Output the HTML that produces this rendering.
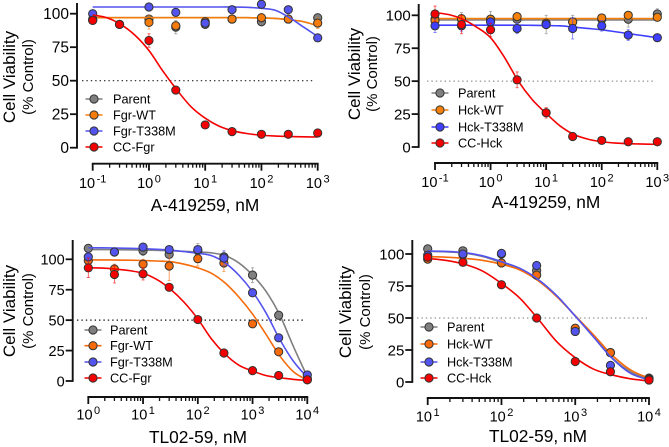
<!DOCTYPE html>
<html lang="en">
<head>
<meta charset="utf-8">
<title>Cell viability dose-response charts</title>
<style>
html,body{margin:0;padding:0;background:#fff;width:669px;height:447px;overflow:hidden}
svg{display:block;font-family:"Liberation Sans",Arial,sans-serif;fill:#000}
</style>
</head>
<body>
<svg id="figure" width="669" height="447" viewBox="0 0 669 447" xmlns="http://www.w3.org/2000/svg"></svg>
<script>
// ---------- Data ----------
const yTicks = [0, 25, 50, 75, 100];

// Panel A: A-419259 on Fgr cells
const fgrADoses = [0.1, 0.3, 1, 3, 10, 30, 100, 300, 1000];
const fgrANames = ['Parent', 'Fgr-WT', 'Fgr-T338M', 'CC-Fgr'];
const fgrAParent = [95, 92, 96, 90, 92, 96, 94, 96, 97];
const fgrAWT = [96, 92, 93.5, 91, 94, 96, 97, 96, 93];
const fgrAT338M = [100, 92, 105, 101, 93, 103, 107, 103, 82];
const fgrACC = [95, 92, 80, 43, 17, 12, 10, 10, 11];
const fgrAParentErr = [2, 1, 3, 5, 3, 2, 3, 2, 2];
const fgrAWTErr = [2, 1, 5, 3, 3, 2, 3, 2, 4];
const fgrAT338MErr = [1, 1, 1, 1, 1, 1, 1, 1, 1];
const fgrACCErr = [2, 1, 5, 2, 1, 1, 1, 1, 1];
const fgrAFitDoses = [0.1, 0.178, 0.316, 0.562, 1, 1.78, 3.16, 5.62, 10, 17.8, 31.6, 56.2, 100, 178, 316, 562, 1000];
const fgrAParentFit = [97, 97, 97, 97, 97, 97, 97, 97, 97, 97, 97, 97, 96.8, 96.5, 95.5, 94, 91];
const fgrAWTFit = [97, 97, 97, 97, 97, 97, 97, 97, 97, 97, 97, 97, 96.8, 96.5, 95.5, 94, 91];
const fgrAT338MFit = [105, 105, 105, 105, 105, 105, 105, 105, 105, 105, 105, 104.8, 104, 102.5, 97, 90, 83];
const fgrACCFit = [99, 97, 92, 84, 72.5, 57, 43, 30.5, 22, 16, 12.5, 10.5, 9.3, 8.7, 8.3, 8.1, 8];

// Panel B: A-419259 on Hck cells
const hckADoses = [0.1, 0.3, 1, 3, 10, 30, 100, 300, 1000];
const hckANames = ['Parent', 'Hck-WT', 'Hck-T338M', 'CC-Hck'];
const hckAParent = [97, 97, 97, 97, 93, 95, 97, 97, 101];
const hckAWT = [96, 97.5, 97, 99, 94, 95, 98, 100, 98.5];
const hckAT338M = [92, 92, 95, 90, 93, 90, 92, 85, 83];
const hckACC = [101, 93, 89, 51, 26, 8, 5, 4, 4];
const hckAParentErr = [3, 5, 6, 2, 7, 5, 3, 6, 4];
const hckAWTErr = [2, 2, 2, 2, 3, 3, 2, 2, 2];
const hckAT338MErr = [5, 4, 3, 4, 3, 8, 4, 4, 2];
const hckACCErr = [6, 7, 5, 6, 4, 3, 2, 2, 2];
const hckAFitDoses = [0.1, 0.178, 0.316, 0.562, 1, 1.78, 3.16, 5.62, 10, 17.8, 31.6, 56.2, 100, 178, 316, 562, 1000];
const hckAParentFit = [96.5, 96.5, 96.5, 96.5, 96.5, 96.5, 96.5, 96.5, 96.5, 96.5, 96.5, 96.5, 96.5, 96.5, 96.5, 96.5, 96.5];
const hckAWTFit = [97.5, 97.5, 97.5, 97.5, 97.5, 97.5, 97.5, 97.5, 97.5, 97.5, 97.5, 97.5, 97.5, 97.5, 97.5, 97.5, 97.5];
const hckAT338MFit = [92.5, 92.5, 92.5, 92.5, 92.5, 92.5, 92.5, 92.4, 92.2, 92, 91, 90, 89, 87.5, 86, 84.5, 83];
const hckACCFit = [102, 100.5, 97, 91, 83, 68, 50, 36, 25.5, 16, 9.5, 6, 4, 3, 2.5, 2.2, 2];

// Panel C: TL02-59 on Fgr cells
const fgrTDoses = [1, 3, 10, 30, 100, 300, 1000, 3000, 10000];
const fgrTNames = ['Parent', 'Fgr-WT', 'Fgr-T338M', 'CC-Fgr'];
const fgrTParent = [109, 106, 107, 104, 107, 102, 87, 54, 2];
const fgrTWT = [99, 92, 96, 94.5, 100.5, 97, 47, 24, 1];
const fgrTT338M = [102, 106, 110, 108, 108, 101, 72.5, 35.5, 5];
const fgrTCC = [93, 87.5, 88, 77, 50.5, 23, 8.5, 4.5, 1];
const fgrTParentErr = [3, 3, 4, 6, 6, 4, 6, 3, 1];
const fgrTWTErr = [5, 4, 4, 12, 6, 7, 3, 2, 1];
const fgrTT338MErr = [4, 3, 3, 3, 3, 6, 3, 2, 1];
const fgrTCCErr = [8, 7, 5, 2, 2, 2, 2, 2, 1];
const fgrTFitDoses = [1, 1.78, 3.16, 5.62, 10, 17.8, 31.6, 56.2, 100, 178, 316, 562, 1000, 1780, 3160, 5620, 10000];
const fgrTParentFit = [108, 108, 107.9, 107.8, 107.6, 107.4, 107, 106.6, 106, 105.3, 103, 97, 87, 73.4, 54, 28, 3.5];
const fgrTWTFit = [99.5, 99.5, 99.4, 99.3, 99, 98.6, 98, 96, 93, 88.5, 80.5, 69, 55, 38, 20.5, 7.5, 0.8];
const fgrTT338MFit = [109.5, 109.4, 109.2, 109, 108.7, 108.2, 107.5, 106.3, 105, 103, 97, 87, 73.4, 55.6, 34, 16, 3];
const fgrTCCFit = [93, 92.8, 92, 90.7, 88.5, 83.5, 75.5, 64.7, 51, 34.5, 22, 13, 8.2, 4.4, 2.7, 1.3, 0.5];

// Panel D: TL02-59 on Hck cells
const hckTDoses = [10, 30, 100, 300, 1000, 3000, 10000];
const hckTNames = ['Parent', 'Hck-WT', 'Hck-T338M', 'CC-Hck'];
const hckTParent = [104, 102.5, 100, 87, 40, 23, 3];
const hckTWT = [96, 99.5, 93, 83.5, 42, 23, 2.5];
const hckTT338M = [99, 100, 100.5, 91, 39.5, 13, 2];
const hckTCC = [97.5, 93.5, 76, 50, 16, 8, 1.5];
const hckTParentErr = [1, 1, 1, 1, 1, 1, 1];
const hckTWTErr = [1, 1, 1, 1, 1, 1, 1];
const hckTT338MErr = [1, 1, 1, 1, 1, 1, 1];
const hckTCCErr = [1, 1, 1, 1, 1, 1, 1];
const hckTFitDoses = [10, 17.8, 31.6, 56.2, 100, 178, 316, 562, 1000, 1780, 3160, 5620, 10000];
const hckTParentFit = [102, 101.7, 100.7, 98, 93.3, 88.5, 80, 67.3, 51.5, 35.7, 19, 8, 2.2];
const hckTWTFit = [98, 97.5, 96.5, 95, 92, 87.5, 79, 66.7, 51.8, 36.7, 21, 9.4, 3];
const hckTT338MFit = [102.3, 102, 101, 98.5, 94, 88.8, 80, 67.4, 51.5, 35, 18.5, 6.8, 1.6];
const hckTCCFit = [96.5, 95, 92, 86.5, 77, 65.4, 49, 31.5, 19, 10, 5.5, 2.5, 0.8];

// X tick decades and their printed exponents
const fgrADecades = [0.1, 1, 10, 100, 1000];
const fgrAExponents = ['-1', '0', '1', '2', '3'];
const hckADecades = [0.1, 1, 10, 100, 1000];
const hckAExponents = ['-1', '0', '1', '2', '3'];
const fgrTDecades = [1, 10, 100, 1000, 10000];
const fgrTExponents = ['0', '1', '2', '3', '4'];
const hckTDecades = [10, 100, 1000, 10000];
const hckTExponents = ['1', '2', '3', '4'];

// ---------- Panel wiring and layout ----------
const panels = [
  {key:'fgr-a', doses:fgrADoses, fitDoses:fgrAFitDoses, names:fgrANames, decades:fgrADecades, exps:fgrAExponents, xLabel:'A-419259, nM',
   values:[fgrAParent,fgrAWT,fgrAT338M,fgrACC], errs:[fgrAParentErr,fgrAWTErr,fgrAT338MErr,fgrACCErr], fits:[fgrAParentFit,fgrAWTFit,fgrAT338MFit,fgrACCFit],
   colors:['#7f7f7f','#f57c0a','#5353ee','#f40000'],
   ax:{yx:77,top:3,y0:147.7,y100:13.7,xy:163.7,x0:92.7,x1:317.7,refA:82,refB:315,refColor:'#222',refW:1.1,yFont:15.5,
       labY:188,titleX:205,titleY:211,t1x:15,t2x:33,tcy:77,legY:[99,115,131,147],legX:94,legT:113}},
  {key:'hck-a', doses:hckADoses, fitDoses:hckAFitDoses, names:hckANames, decades:hckADecades, exps:hckAExponents, xLabel:'A-419259, nM',
   values:[hckAParent,hckAWT,hckAT338M,hckACC], errs:[hckAParentErr,hckAWTErr,hckAT338MErr,hckACCErr], fits:[hckAParentFit,hckAWTFit,hckAT338MFit,hckACCFit],
   colors:['#808080','#f5800a','#3f3fff','#f40000'],
   ax:{yx:418.7,top:4,y0:147,y100:15.3,xy:163,x0:435,x1:657.3,refA:427,refB:655,refColor:'#777',refW:1,yFont:15,
       labY:187,titleX:546,titleY:208,t1x:360,t2x:377,tcy:74,legY:[93,110,127,143],legX:440,legT:458}},
  {key:'fgr-t', doses:fgrTDoses, fitDoses:fgrTFitDoses, names:fgrTNames, decades:fgrTDecades, exps:fgrTExponents, xLabel:'TL02-59, nM',
   values:[fgrTParent,fgrTWT,fgrTT338M,fgrTCC], errs:[fgrTParentErr,fgrTWTErr,fgrTT338MErr,fgrTCCErr], fits:[fgrTParentFit,fgrTWTFit,fgrTT338MFit,fgrTCCFit],
   colors:['#7f7f7f','#f56a0a','#5353ee','#f40000'],
   ax:{yx:72.7,top:240,y0:381,y100:259.3,xy:397,x0:88.3,x1:307.3,refA:77,refB:305,refColor:'#111',refW:1.3,yFont:14.5,
       labY:419.5,titleX:198,titleY:443,t1x:15,t2x:33,tcy:311,legY:[330,345.7,362,378],legX:93,legT:110}},
  {key:'hck-t', doses:hckTDoses, fitDoses:hckTFitDoses, names:hckTNames, decades:hckTDecades, exps:hckTExponents, xLabel:'TL02-59, nM',
   values:[hckTParent,hckTWT,hckTT338M,hckTCC], errs:[hckTParentErr,hckTWTErr,hckTT338MErr,hckTCCErr], fits:[hckTParentFit,hckTWTFit,hckTT338MFit,hckTCCFit],
   colors:['#7f7f7f','#f56a0a','#5353ee','#f40000'],
   ax:{yx:412.3,top:240,y0:382,y100:254,xy:398,x0:427.7,x1:649,refA:417,refB:647,refColor:'#777',refW:1,yFont:15,
       labY:421.5,titleX:538,titleY:442,t1x:351,t2x:370,tcy:312,legY:[327,344,362,378],legX:429,legT:447}}
];

// ---------- Drawing ----------
const NS = 'http://www.w3.org/2000/svg';
const svg = document.getElementById('figure');

function make(tag, attrs, parent) {
  const el = document.createElementNS(NS, tag);
  for (const k in attrs) el.setAttribute(k, attrs[k]);
  parent.appendChild(el);
  return el;
}

function smoothPath(pts) {
  let d = 'M' + pts[0][0].toFixed(2) + ' ' + pts[0][1].toFixed(2);
  for (let i = 0; i < pts.length - 1; i++) {
    const p0 = pts[Math.max(i - 1, 0)], p1 = pts[i], p2 = pts[i + 1], p3 = pts[Math.min(i + 2, pts.length - 1)];
    const c1x = p1[0] + (p2[0] - p0[0]) / 6, c1y = p1[1] + (p2[1] - p0[1]) / 6;
    const c2x = p2[0] - (p3[0] - p1[0]) / 6, c2y = p2[1] - (p3[1] - p1[1]) / 6;
    d += 'C' + c1x.toFixed(2) + ' ' + c1y.toFixed(2) + ' ' + c2x.toFixed(2) + ' ' + c2y.toFixed(2) + ' ' + p2[0].toFixed(2) + ' ' + p2[1].toFixed(2);
  }
  return d;
}

panels.forEach(function (p) {
  const a = p.ax;
  const lo = Math.log10(p.decades[0]);
  const hi = Math.log10(p.decades[p.decades.length - 1]);
  const xScale = function (v) { return a.x0 + (Math.log10(v) - lo) / (hi - lo) * (a.x1 - a.x0); };
  const yScale = function (v) { return a.y0 + (a.y100 - a.y0) * v / 100; };

  const g = make('g', {}, svg);
  
  

  // Reference line at 50 %
  const ref = make('line', {x1:a.refA, x2:a.refB, y1:yScale(50), y2:yScale(50), stroke:a.refColor, 'stroke-width':a.refW, 'stroke-dasharray':'1.4 3'}, g);
  
  

  // Y axis
  const yAxis = make('g', {}, g);
  
  
  make('line', {x1:a.yx, x2:a.yx, y1:a.top, y2:a.y0 + 0.9, stroke:'#111', 'stroke-width':1.9}, yAxis);
  yTicks.forEach(function (t) {
    const y = yScale(t);
    make('line', {x1:a.yx - 7, x2:a.yx, y1:y, y2:y, stroke:'#111', 'stroke-width':1.8}, yAxis);
    const lab = make('text', {x:a.yx - 8, y:y + 5.4, 'text-anchor':'end', 'font-size':a.yFont}, yAxis);
    lab.textContent = String(t);
    
    
  });

  // Y title
  const t1 = make('text', {transform:'translate(' + a.t1x + ' ' + a.tcy + ') rotate(-90)', 'text-anchor':'middle', 'font-size':17}, g);
  t1.textContent = 'Cell Viability';
  
  
  const t2 = make('text', {transform:'translate(' + a.t2x + ' ' + a.tcy + ') rotate(-90)', 'text-anchor':'middle', 'font-size':15}, g);
  t2.textContent = '(% Control)';
  
  

  // X axis
  const xAxis = make('g', {}, g);
  
  
  make('line', {x1:a.x0 - 0.9, x2:a.x1 + 0.9, y1:a.xy, y2:a.xy, stroke:'#111', 'stroke-width':1.9}, xAxis);
  p.decades.forEach(function (dec, i) {
    const x = xScale(dec);
    make('line', {x1:x, x2:x, y1:a.xy, y2:a.xy + 7, stroke:'#111', 'stroke-width':1.8}, xAxis);
    if (i < p.decades.length - 1) {
      for (let k = 2; k < 10; k++) {
        const mx = xScale(dec * k);
        make('line', {x1:mx, x2:mx, y1:a.xy, y2:a.xy + 4, stroke:'#111', 'stroke-width':1.3}, xAxis);
      }
    }
    const lab = make('text', {x:x, y:a.labY, 'text-anchor':'middle', 'font-size':14.5}, xAxis);
    
    
    const base = make('tspan', {}, lab);
    base.textContent = '10';
    const sup = make('tspan', {dy:-5.5, dx:1.5, 'font-size':11}, lab);
    sup.textContent = p.exps[i];
  });
  const xt = make('text', {x:a.titleX, y:a.titleY, 'text-anchor':'middle', 'font-size':17.3}, g);
  xt.textContent = p.xLabel;
  
  

  // Series
  p.names.forEach(function (name, s) {
    const color = p.colors[s];
    const sg = make('g', {}, g);
    
    

    const pts = p.fitDoses.map(function (d, i) { return [xScale(d), yScale(p.fits[s][i])]; });
    const curve = make('path', {d:smoothPath(pts), fill:'none', stroke:color, 'stroke-width':1.6}, sg);
    
    

    p.doses.forEach(function (d, i) {
      const x = xScale(d);
      const up = yScale(p.values[s][i] + p.errs[s][i]);
      const dn = yScale(p.values[s][i] - p.errs[s][i]);
      const err = make('path', {d:'M' + (x - 1.5) + ' ' + up + 'H' + (x + 1.5) + 'M' + x + ' ' + up + 'V' + dn + 'M' + (x - 1.5) + ' ' + dn + 'H' + (x + 1.5), fill:'none', stroke:color, 'stroke-width':0.8, opacity:0.75}, sg);
      
      
    });
    p.doses.forEach(function (d, i) {
      const pt = make('circle', {cx:xScale(d), cy:yScale(p.values[s][i]), r:4.1, fill:color, stroke:'#333', 'stroke-width':1}, sg);
      
      
    });

    // Legend entry
    const lg = make('g', {}, g);
    
    
    const ly = a.legY[s];
    make('line', {x1:a.legX - 8.5, x2:a.legX + 8.5, y1:ly, y2:ly, stroke:color, 'stroke-width':1.6}, lg);
    make('circle', {cx:a.legX, cy:ly, r:4.1, fill:color, stroke:'#333', 'stroke-width':1}, lg);
    const lt = make('text', {x:a.legT, y:ly + 4.4, 'font-size':12.7}, lg);
    lt.textContent = name;
  });
});
</script>
</body>
</html>
